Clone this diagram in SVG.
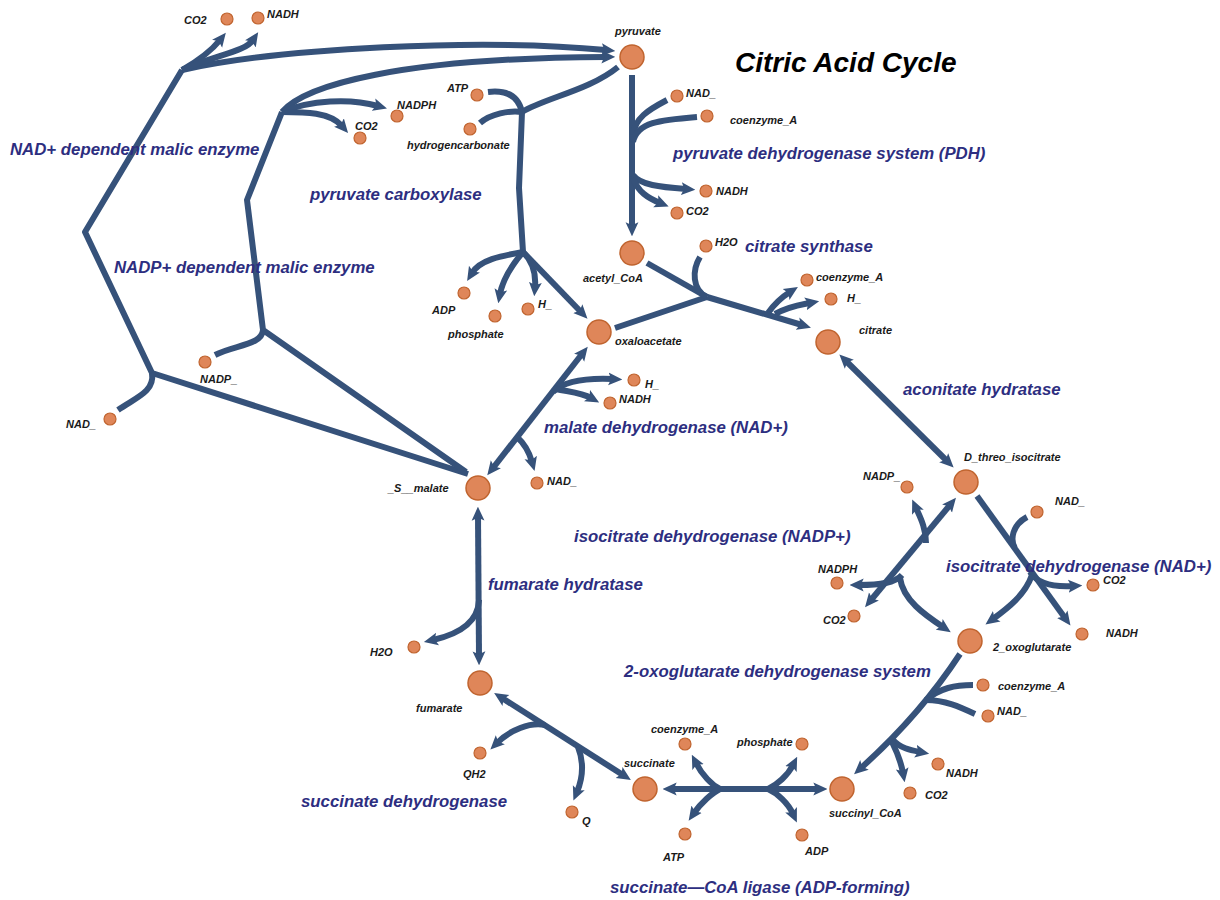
<svg xmlns="http://www.w3.org/2000/svg" width="1220" height="900" viewBox="0 0 1220 900">
<style>
.c{fill:none;stroke:#36527a;stroke-width:6;stroke-linejoin:round}
.a{marker-end:url(#ah)}
.b{marker-start:url(#ah);marker-end:url(#ah)}
.big{fill:#df8659;stroke:#c0642f;stroke-width:1.5}
.sm{fill:#df8659;stroke:#c0642f;stroke-width:1.2}
.nl{font-family:"Liberation Sans",Arial,sans-serif;font-size:11px;font-style:italic;font-weight:bold;fill:#1a1a1a}
.rl{font-family:"Liberation Sans",Arial,sans-serif;font-size:16.8px;font-style:italic;font-weight:bold;fill:#2d2e80}
.tt{font-family:"Liberation Sans",Arial,sans-serif;font-size:28px;font-style:italic;font-weight:bold;fill:#000}
</style>
<defs>
<marker id="ah" viewBox="0 0 12 12" markerWidth="14" markerHeight="14" refX="4" refY="6" orient="auto-start-reverse" markerUnits="userSpaceOnUse"><path d="M0,0.5 L12,6 L0,11.5 L2.5,6 z" fill="#36527a"/></marker>
</defs>
<rect width="1220" height="900" fill="#fff"/>

<g id="connectors">
<!-- NAD+ dependent malic enzyme -->
<path class="c" d="M468,474 L152,373 L85,232 L182,70"/>
<path class="c a" d="M182,70 C280,48 480,38 606,50"/>
<path class="c a" d="M182,70 Q208,55 220,40"/>
<path class="c a" d="M182,70 C215,55 245,52 253,40"/>
<path class="c" d="M118,410 C135,398 155,392 152,373"/>
<!-- NADP+ dependent malic enzyme -->
<path class="c" d="M466,472 L263,330 L247,200 L282,112"/>
<path class="c a" d="M282,112 C305,85 400,58 606,57"/>
<path class="c a" d="M282,112 C310,100 350,98 378,106"/>
<path class="c a" d="M282,112 C305,112 330,112 342,126"/>
<path class="c" d="M215,355 C235,345 262,345 263,330"/>
<!-- pyruvate carboxylase -->
<path class="c" d="M618,67 C590,90 545,98 522,112"/>
<path class="c" d="M488,92 C505,90 518,95 522,112"/>
<path class="c" d="M480,123 C490,114 510,110 522,112"/>
<path class="c" d="M522,112 L519,188 L523,252"/>
<path class="c a" d="M523,252 C500,256 480,260 472,273"/>
<path class="c a" d="M523,252 C512,265 503,278 500,294"/>
<path class="c a" d="M523,252 C533,262 536,275 535,287"/>
<path class="c a" d="M523,252 L581,312"/>
<!-- PDH -->
<path class="c a" d="M632,75 L632,227"/>
<path class="c" d="M667,100 C648,110 635,118 633,135"/>
<path class="c" d="M697,117 C660,120 637,122 633,142"/>
<path class="c a" d="M633,175 C640,185 660,187 686,189"/>
<path class="c a" d="M633,178 C638,192 648,198 660,203"/>
<!-- citrate synthase -->
<path class="c" d="M647,263 L707,297"/>
<path class="c" d="M615,328 L707,297"/>
<path class="c" d="M700,257 C692,270 692,290 707,297"/>
<path class="c a" d="M707,297 L802,325"/>
<path class="c a" d="M768,313 C775,303 782,297 790,292"/>
<path class="c a" d="M775,314 C790,306 800,305 810,303"/>
<!-- aconitate hydratase -->
<path class="c b" d="M846,361 L947,461"/>
<!-- isocitrate dehydrogenase (NADP+) -->
<path class="c b" d="M950,505 L871,600"/>
<path class="c a" d="M926,543 C926,528 920,517 916,508"/>
<path class="c a" d="M902,575 C895,583 880,585 859,585"/>
<path class="c a" d="M900,578 C903,600 925,615 943,627"/>
<!-- isocitrate dehydrogenase (NAD+) -->
<path class="c a" d="M977,496 L1065,618"/>
<path class="c" d="M1027,517 C1012,525 1010,540 1015,548"/>
<path class="c a" d="M1030,572 C1038,585 1055,587 1073,586"/>
<path class="c a" d="M1032,575 C1025,595 1008,608 993,619"/>
<!-- 2-oxoglutarate dehydrogenase -->
<path class="c a" d="M960,654 Q920,715 861,768"/>
<path class="c" d="M973,685 C955,685 940,688 926,700"/>
<path class="c" d="M975,714 C960,707 945,700 926,700"/>
<path class="c a" d="M893,740 C900,748 910,750 920,752"/>
<path class="c a" d="M892,742 C897,752 901,762 903,773"/>
<!-- succinate-CoA ligase -->
<path class="c b" d="M672,789 L818,789"/>
<path class="c a" d="M720,789 C712,785 702,775 696,763"/>
<path class="c a" d="M720,789 C712,793 701,803 694,813"/>
<path class="c a" d="M768,789 C777,785 788,775 793,765"/>
<path class="c a" d="M768,789 C777,793 788,803 793,814"/>
<!-- succinate dehydrogenase -->
<path class="c b" d="M502,698 L623,775"/>
<path class="c a" d="M545,725 C530,722 510,730 497,743"/>
<path class="c a" d="M578,747 C585,765 582,780 577,792"/>
<!-- fumarate hydratase -->
<path class="c b" d="M478,516 L479,656"/>
<path class="c a" d="M479,600 C478,625 455,635 433,640"/>
<!-- malate dehydrogenase -->
<path class="c b" d="M493,468 L582,354"/>
<path class="c a" d="M553,392 C565,380 590,378 613,379"/>
<path class="c a" d="M556,389 C570,392 582,393 591,398"/>
<path class="c a" d="M517,437 C526,445 530,455 532,462"/>
</g>

<g id="reaction-labels">
<text class="tt" x="735" y="72">Citric Acid Cycle</text>
<text class="rl" x="10" y="155">NAD+ dependent malic enzyme</text>
<text class="rl" x="114" y="273">NADP+ dependent malic enzyme</text>
<text class="rl" x="310" y="200">pyruvate carboxylase</text>
<text class="rl" x="673" y="159">pyruvate dehydrogenase system (PDH)</text>
<text class="rl" x="745" y="252">citrate synthase</text>
<text class="rl" x="903" y="395">aconitate hydratase</text>
<text class="rl" x="544" y="433">malate dehydrogenase (NAD+)</text>
<text class="rl" x="574" y="542">isocitrate dehydrogenase (NADP+)</text>
<text class="rl" x="946" y="572">isocitrate dehydrogenase (NAD+)</text>
<text class="rl" x="488" y="590">fumarate hydratase</text>
<text class="rl" x="624" y="677">2-oxoglutarate dehydrogenase system</text>
<text class="rl" x="301" y="807">succinate dehydrogenase</text>
<text class="rl" x="610" y="893">succinate—CoA ligase (ADP-forming)</text>
</g>

<g id="pyruvate"><circle class="big" cx="632" cy="57" r="12"/><text class="nl" x="615" y="35">pyruvate</text></g>
<g id="acetyl_CoA"><circle class="big" cx="632" cy="253" r="12"/><text class="nl" x="583" y="282">acetyl_CoA</text></g>
<g id="oxaloacetate"><circle class="big" cx="599" cy="332" r="12"/><text class="nl" x="615" y="345">oxaloacetate</text></g>
<g id="citrate"><circle class="big" cx="828" cy="342" r="12"/><text class="nl" x="859" y="334">citrate</text></g>
<g id="D_threo_isocitrate"><circle class="big" cx="966" cy="482" r="12"/><text class="nl" x="964" y="461">D_threo_isocitrate</text></g>
<g id="2_oxoglutarate"><circle class="big" cx="970" cy="641" r="12"/><text class="nl" x="993" y="651">2_oxoglutarate</text></g>
<g id="succinyl_CoA"><circle class="big" cx="842" cy="789" r="12"/><text class="nl" x="829" y="817">succinyl_CoA</text></g>
<g id="succinate"><circle class="big" cx="645" cy="789" r="12"/><text class="nl" x="624" y="767">succinate</text></g>
<g id="fumarate"><circle class="big" cx="480" cy="683" r="12"/><text class="nl" x="416" y="712">fumarate</text></g>
<g id="S_malate"><circle class="big" cx="478" cy="488" r="12"/><text class="nl" x="388" y="492">_S__malate</text></g>

<g id="CO2_nad_me"><circle class="sm" cx="227" cy="19" r="6"/><text class="nl" x="184" y="24">CO2</text></g>
<g id="NADH_nad_me"><circle class="sm" cx="258" cy="18" r="6"/><text class="nl" x="267" y="18">NADH</text></g>
<g id="NAD_nad_me"><circle class="sm" cx="110" cy="419" r="6"/><text class="nl" x="66" y="428">NAD_</text></g>
<g id="NADPH_nadp_me"><circle class="sm" cx="397" cy="116" r="6"/><text class="nl" x="397" y="109">NADPH</text></g>
<g id="CO2_nadp_me"><circle class="sm" cx="360" cy="138" r="6"/><text class="nl" x="355" y="130">CO2</text></g>
<g id="NADP_nadp_me"><circle class="sm" cx="205" cy="362" r="6"/><text class="nl" x="200" y="383">NADP_</text></g>
<g id="ATP_pc"><circle class="sm" cx="477" cy="95" r="6"/><text class="nl" x="447" y="92">ATP</text></g>
<g id="hydrogencarbonate"><circle class="sm" cx="470" cy="129" r="6"/><text class="nl" x="407" y="149">hydrogencarbonate</text></g>
<g id="ADP_pc"><circle class="sm" cx="464" cy="293" r="6"/><text class="nl" x="432" y="314">ADP</text></g>
<g id="phosphate_pc"><circle class="sm" cx="495" cy="316" r="6"/><text class="nl" x="448" y="338">phosphate</text></g>
<g id="H_pc"><circle class="sm" cx="528" cy="309" r="6"/><text class="nl" x="538" y="308">H_</text></g>
<g id="NAD_pdh"><circle class="sm" cx="677" cy="96" r="6"/><text class="nl" x="686" y="97">NAD_</text></g>
<g id="coenzyme_A_pdh"><circle class="sm" cx="707" cy="116" r="6"/><text class="nl" x="730" y="124">coenzyme_A</text></g>
<g id="NADH_pdh"><circle class="sm" cx="706" cy="191" r="6"/><text class="nl" x="716" y="195">NADH</text></g>
<g id="CO2_pdh"><circle class="sm" cx="677" cy="213" r="6"/><text class="nl" x="686" y="215">CO2</text></g>
<g id="H2O_cs"><circle class="sm" cx="706" cy="246" r="6"/><text class="nl" x="715" y="246">H2O</text></g>
<g id="coenzyme_A_cs"><circle class="sm" cx="807" cy="280" r="6"/><text class="nl" x="816" y="281">coenzyme_A</text></g>
<g id="H_cs"><circle class="sm" cx="831" cy="299" r="6"/><text class="nl" x="847" y="302">H_</text></g>
<g id="H_mdh"><circle class="sm" cx="634" cy="380" r="6"/><text class="nl" x="645" y="388">H_</text></g>
<g id="NADH_mdh"><circle class="sm" cx="610" cy="403" r="6"/><text class="nl" x="619" y="403">NADH</text></g>
<g id="NAD_mdh"><circle class="sm" cx="537" cy="483" r="6"/><text class="nl" x="547" y="485">NAD_</text></g>
<g id="NADP_icdh"><circle class="sm" cx="907" cy="487" r="6"/><text class="nl" x="863" y="480">NADP_</text></g>
<g id="NAD_icdh"><circle class="sm" cx="1037" cy="512" r="6"/><text class="nl" x="1055" y="505">NAD_</text></g>
<g id="NADPH_icdh"><circle class="sm" cx="837" cy="583" r="6"/><text class="nl" x="818" y="573">NADPH</text></g>
<g id="CO2_icdh_nadp"><circle class="sm" cx="854" cy="616" r="6"/><text class="nl" x="823" y="624">CO2</text></g>
<g id="CO2_icdh_nad"><circle class="sm" cx="1093" cy="585" r="6"/><text class="nl" x="1103" y="584">CO2</text></g>
<g id="NADH_icdh"><circle class="sm" cx="1082" cy="634" r="6"/><text class="nl" x="1106" y="637">NADH</text></g>
<g id="coenzyme_A_ogdh"><circle class="sm" cx="983" cy="685" r="6"/><text class="nl" x="998" y="690">coenzyme_A</text></g>
<g id="NAD_ogdh"><circle class="sm" cx="988" cy="716" r="6"/><text class="nl" x="997" y="715">NAD_</text></g>
<g id="NADH_ogdh"><circle class="sm" cx="938" cy="764" r="6"/><text class="nl" x="946" y="777">NADH</text></g>
<g id="CO2_ogdh"><circle class="sm" cx="910" cy="793" r="6"/><text class="nl" x="925" y="799">CO2</text></g>
<g id="coenzyme_A_scl"><circle class="sm" cx="685" cy="744" r="6"/><text class="nl" x="651" y="733">coenzyme_A</text></g>
<g id="phosphate_scl"><circle class="sm" cx="802" cy="744" r="6"/><text class="nl" x="737" y="746">phosphate</text></g>
<g id="ATP_scl"><circle class="sm" cx="685" cy="834" r="6"/><text class="nl" x="663" y="861">ATP</text></g>
<g id="ADP_scl"><circle class="sm" cx="802" cy="835" r="6"/><text class="nl" x="805" y="855">ADP</text></g>
<g id="QH2"><circle class="sm" cx="480" cy="753" r="6"/><text class="nl" x="463" y="778">QH2</text></g>
<g id="Q"><circle class="sm" cx="572" cy="812" r="6"/><text class="nl" x="582" y="825">Q</text></g>
<g id="H2O_fh"><circle class="sm" cx="414" cy="647" r="6"/><text class="nl" x="370" y="656">H2O</text></g>
</svg>
